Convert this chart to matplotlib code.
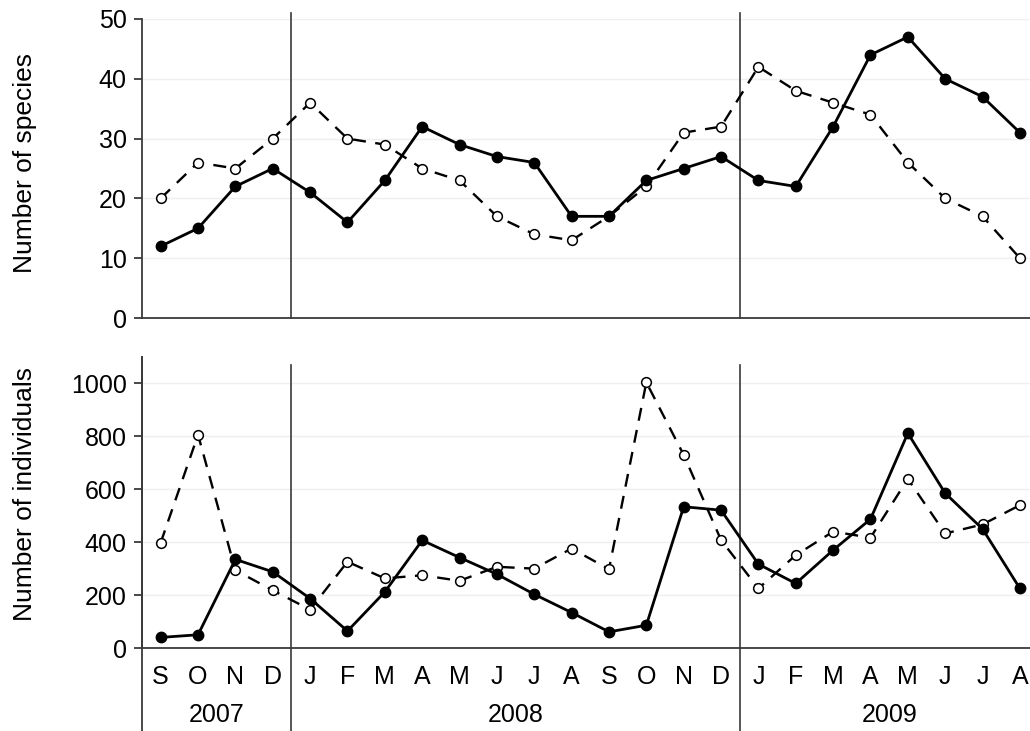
import matplotlib
matplotlib.use("Agg")
import matplotlib.pyplot as plt
import matplotlib.transforms as mtransforms
import numpy as np

plt.rcParams['font.family'] = ['Liberation Sans', 'DejaVu Sans']

# -------- data --------
months = ["S", "O", "N", "D",
          "J", "F", "M", "A", "M", "J", "J", "A", "S", "O", "N", "D",
          "J", "F", "M", "A", "M", "J", "J", "A"]
years = ["2007", "2008", "2009"]

species_solid = [12, 15, 22, 25, 21, 16, 23, 32, 29, 27, 26, 17,
                 17, 23, 25, 27, 23, 22, 32, 44, 47, 40, 37, 31]
species_open = [20, 26, 25, 30, 36, 30, 29, 25, 23, 17, 14, 13,
                17, 22, 31, 32, 42, 38, 36, 34, 26, 20, 17, 10]

indiv_solid = [40, 50, 335, 288, 187, 64, 212, 407, 342, 279, 203, 134,
               61, 86, 534, 521, 317, 244, 370, 487, 812, 585, 450, 225]
indiv_open = [398, 806, 294, 218, 145, 326, 263, 275, 254, 307, 300, 376,
              298, 1004, 730, 408, 225, 351, 440, 417, 639, 433, 467, 540]

x = np.arange(len(months))
year_bounds = [-0.5, 3.5, 15.5]
year_centers = [1.5, 9.5, 19.5]

W, H = 1030, 731
fig = plt.figure(figsize=(W / 100, H / 100), dpi=100)

ax1 = fig.add_axes([142 / W, 1 - 318 / H, 888 / W, 299 / H])
ax2 = fig.add_axes([142 / W, 1 - 648 / H, 888 / W, 291 / H])

spine_col = "#3a3a3a"


def style(ax, ymax, yticks):
    ax.set_xlim(-0.5, 23.27)
    ax.set_ylim(0, ymax)
    ax.set_yticks(yticks)
    ax.spines["top"].set_visible(False)
    ax.spines["right"].set_visible(False)
    for s in ("left", "bottom"):
        ax.spines[s].set_color(spine_col)
        ax.spines[s].set_linewidth(1.3)
    ax.tick_params(axis="y", length=6, width=1.3, color=spine_col,
                   labelsize=18, pad=5)
    ax.grid(axis="y", color="#efefef", linewidth=1.0)
    ax.set_axisbelow(True)


def draw(ax, open_vals, solid_vals):
    ax.plot(x, open_vals, color="black", linewidth=1.7, linestyle=(0, (5.5, 4)),
            marker="o", markersize=7, markerfacecolor="white",
            markeredgecolor="black", markeredgewidth=1.1, zorder=3)
    ax.plot(x, solid_vals, color="black", linewidth=2.0, marker="o",
            markersize=7.5, markerfacecolor="black", markeredgecolor="black",
            zorder=4)


style(ax1, 50, [0, 10, 20, 30, 40, 50])
style(ax2, 1100, [0, 200, 400, 600, 800, 1000])

draw(ax1, species_open, species_solid)
draw(ax2, indiv_open, indiv_solid)

ax1.set_xticks([])
ax2.set_xticks(x)
ax2.set_xticklabels(months)
ax2.tick_params(axis="x", length=0, labelsize=18, pad=12)

# year dividers
tr1 = mtransforms.blended_transform_factory(ax1.transData, ax1.transAxes)
tr2 = mtransforms.blended_transform_factory(ax2.transData, ax2.transAxes)
for b in year_bounds[1:]:
    ax1.plot([b, b], [0, 1.02], transform=tr1, color=spine_col,
             linewidth=1.2, clip_on=False, zorder=2)
for b in year_bounds:
    top = 0.972 if b > 0 else 1.0
    ax2.plot([b, b], [-0.3, top], transform=tr2, color=spine_col,
             linewidth=1.3 if b < 0 else 1.2, clip_on=False, zorder=2)

for c, yr in zip(year_centers, years):
    ax2.text(c, -0.19, yr, transform=tr2, ha="center", va="top", fontsize=18)

fig.text(25 / W, 1 - 163 / H, "Number of species", rotation=90,
         ha="center", va="center", fontsize=19)
fig.text(25 / W, 1 - 494 / H, "Number of individuals", rotation=90,
         ha="center", va="center", fontsize=19)

fig.savefig("out.png", dpi=100)
